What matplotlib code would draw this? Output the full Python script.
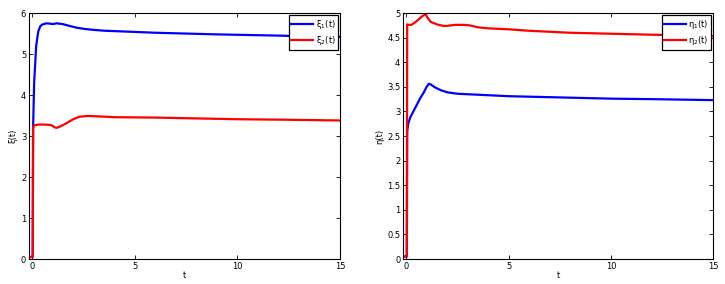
import matplotlib
matplotlib.use("Agg")
import matplotlib.pyplot as plt

# Left panel data
t_xi1 = [-0.15, 0.0, 0.03, 0.05, 0.1, 0.2, 0.3, 0.4, 0.5, 0.7, 0.9, 1.0, 1.2, 1.5, 1.8, 2.2, 2.6, 3.0, 3.5, 4.0, 5.0, 6.0, 7.5, 9.0, 10.0, 12.0, 13.5, 15.0]
xi1 = [0.05, 0.05, 0.05, 3.2, 4.3, 5.2, 5.55, 5.68, 5.72, 5.75, 5.74, 5.73, 5.75, 5.73, 5.69, 5.64, 5.61, 5.59, 5.57, 5.56, 5.54, 5.52, 5.5, 5.48, 5.47, 5.45, 5.43, 5.42]
t_xi2 = [-0.15, 0.0, 0.03, 0.05, 0.1, 0.3, 0.6, 0.9, 1.0, 1.1, 1.2, 1.4, 1.7, 2.0, 2.3, 2.7, 3.2, 4.0, 6.0, 8.0, 10.0, 12.0, 15.0]
xi2 = [0.05, 0.05, 0.05, 3.2, 3.26, 3.28, 3.28, 3.27, 3.25, 3.21, 3.2, 3.24, 3.32, 3.41, 3.47, 3.49, 3.48, 3.46, 3.45, 3.43, 3.41, 3.4, 3.38]

# Right panel data
t_eta1 = [-0.15, 0.0, 0.03, 0.05, 0.1, 0.2, 0.35, 0.5, 0.7, 0.85, 1.0, 1.1, 1.2, 1.4, 1.7, 2.0, 2.5, 3.0, 4.0, 5.0, 6.0, 8.0, 10.0, 12.0, 15.0]
eta1 = [0.05, 0.05, 0.05, 2.6, 2.75, 2.88, 3.0, 3.12, 3.28, 3.38, 3.5, 3.56, 3.55, 3.49, 3.43, 3.39, 3.36, 3.35, 3.33, 3.31, 3.3, 3.28, 3.26, 3.25, 3.23]
t_eta2 = [-0.15, 0.0, 0.03, 0.05, 0.1, 0.25, 0.4, 0.6, 0.8, 0.95, 1.05, 1.2, 1.5, 1.8, 2.0, 2.4, 2.8, 3.1, 3.5, 4.0, 5.0, 6.0, 8.0, 10.0, 12.0, 15.0]
eta2 = [0.05, 0.05, 0.05, 4.77, 4.76, 4.76, 4.8, 4.87, 4.94, 4.98, 4.9, 4.82, 4.77, 4.74, 4.74, 4.76, 4.76, 4.75, 4.71, 4.69, 4.67, 4.64, 4.6, 4.58, 4.56, 4.53]

xticks = [0, 5, 10, 15]
yticks_left = [0, 1, 2, 3, 4, 5, 6]
yticks_right = [0, 0.5, 1, 1.5, 2, 2.5, 3, 3.5, 4, 4.5, 5]
yticklabels_right = ['0', '0.5', '1', '1.5', '2', '2.5', '3', '3.5', '4', '4.5', '5']

plt.rcParams['font.family'] = ['DejaVu Sans']
fig = plt.figure(figsize=(7.25, 2.84), dpi=100)

ax1 = fig.add_axes([0.040, 0.088, 0.429, 0.866])
ax2 = fig.add_axes([0.556, 0.088, 0.428, 0.866])

blue = '#0000ff'
red = '#ff0000'

ax1.plot(t_xi1, xi1, color=blue, lw=1.6, label='\u03be$_1$(t)')
ax1.plot(t_xi2, xi2, color=red, lw=1.6, label='\u03be$_2$(t)')
ax1.set_ylim(0, 6)
ax1.set_yticks(yticks_left)
ax1.set_ylabel('\u03be(t)', fontsize=6, labelpad=2)

ax2.plot(t_eta1, eta1, color=blue, lw=1.6, label='\u03b7$_1$(t)')
ax2.plot(t_eta2, eta2, color=red, lw=1.6, label='\u03b7$_2$(t)')
ax2.set_ylim(0, 5)
ax2.set_yticks(yticks_right)
ax2.set_yticklabels(yticklabels_right)
ax2.set_ylabel('\u03b7(t)', fontsize=6, labelpad=2)

for ax in (ax1, ax2):
    ax.set_xlim(-0.15, 15)
    ax.set_xticks(xticks)
    ax.set_xlabel('t', fontsize=6, labelpad=0)
    ax.tick_params(direction='in', top=True, right=True, labelsize=6, length=3, width=0.6, pad=2)
    for s in ax.spines.values():
        s.set_linewidth(0.8)
    leg = ax.legend(loc='upper right', fontsize=6, frameon=True, fancybox=False,
                    edgecolor='black', borderaxespad=0.25, handlelength=2.6,
                    borderpad=0.3, labelspacing=0.45, handletextpad=0.3)
    leg.get_frame().set_linewidth(0.9)
    leg.get_frame().set_alpha(1)

fig.savefig('out.png', dpi=100)
